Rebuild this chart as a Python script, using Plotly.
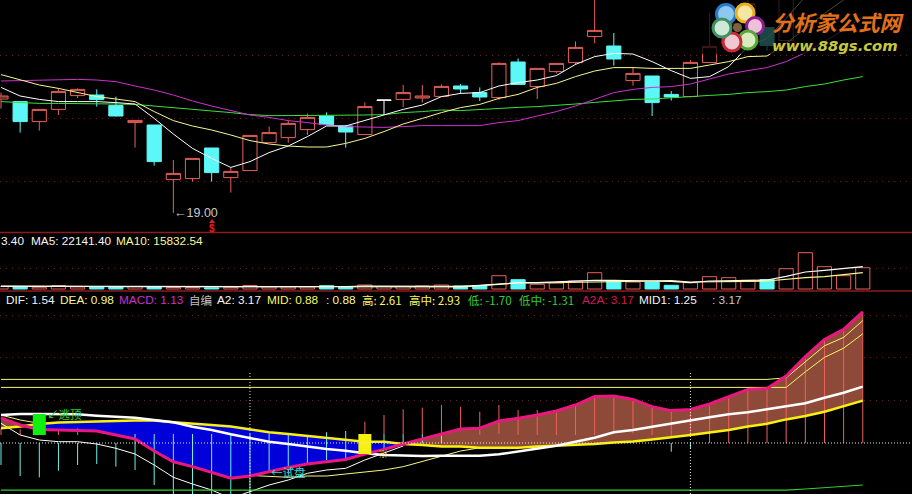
import plotly.graph_objects as go

# ---------- price panel ----------
c_high = [25.02,24.60,24.18,25.23,25.23,25.18,24.82,23.63,23.40,21.65,21.73,22.25,21.27,22.88,23.32,23.62,23.98,24.03,23.40,24.53,None,25.40,25.40,25.43,25.45,25.28,26.53,26.73,26.23,26.48,27.58,30.15,28.00,26.27,25.85,25.10,26.65,28.98,29.32,29.98,28.27,30.15,32.00,33.00,33.50,34.00]
c_top  = [24.85,24.57,24.18,25.08,25.18,24.90,24.38,23.63,23.40,20.98,21.73,22.25,21.08,22.88,23.02,23.48,23.78,23.85,23.35,24.32,None,25.02,24.85,25.33,25.35,25.02,26.48,26.55,26.23,26.48,27.28,28.13,27.35,25.98,25.85,24.93,26.53,27.33,28.48,29.48,28.27,29.82,31.50,32.50,33.00,33.50]
c_bot  = [24.70,23.57,23.57,24.18,24.87,24.67,23.85,23.52,21.57,20.67,20.72,21.02,20.77,21.12,22.52,22.77,23.17,23.42,23.05,22.92,None,24.68,24.75,24.83,25.20,24.80,24.77,25.43,25.32,26.07,26.52,27.82,26.70,25.62,24.52,24.80,24.82,26.52,27.48,28.65,27.37,27.62,30.50,31.50,32.00,32.50]
c_low  = [24.22,23.02,23.12,23.90,24.75,24.32,23.82,22.27,21.37,19.00,20.57,20.57,20.02,21.12,22.52,22.52,22.90,23.42,22.27,22.92,None,24.30,24.52,24.83,24.95,24.60,24.65,25.42,24.70,25.98,26.40,27.48,26.37,25.37,23.85,24.62,24.78,26.52,27.32,28.48,27.12,27.62,30.00,31.00,31.50,32.00]
c_down = [0,1,0,0,0,1,1,0,1,0,0,1,0,0,0,0,0,1,1,0,0,0,0,0,1,1,0,1,0,0,0,0,1,0,1,1,0,0,0,0,1,0,0,0,0,0]
doji_idx = [20]
doji_ohlc = [24.63, 24.65, 23.90, 24.65]

ma_white = [25.28,24.85,24.68,24.57,24.57,24.57,24.52,24.45,23.73,22.95,22.23,21.73,21.28,21.57,22.02,22.35,22.82,23.35,23.35,23.62,23.90,24.18,24.40,24.82,24.98,25.02,25.35,25.52,25.65,25.87,26.43,26.82,26.98,26.95,26.57,26.12,25.73,25.82,26.32,27.32,27.73,28.73,29.82,30.80,31.60,32.40]
ma_yellow = [25.92,25.65,25.40,25.23,25.02,24.82,24.70,24.57,24.07,23.62,23.35,23.15,22.90,22.62,22.45,22.35,22.30,22.30,22.48,22.73,23.07,23.45,23.73,24.02,24.27,24.43,24.73,24.93,25.28,25.48,25.82,26.10,26.27,26.27,26.23,26.23,26.23,26.40,26.57,26.82,26.85,27.48,28.23,28.98,29.65,30.30]
ma_magenta = [25.60,25.62,25.63,25.63,25.68,25.65,25.57,25.35,25.15,24.90,24.60,24.35,24.12,23.90,23.78,23.62,23.52,23.40,23.32,23.30,23.28,23.32,23.37,23.37,23.37,23.37,23.52,23.62,23.85,24.07,24.35,24.68,25.02,25.18,25.28,25.32,25.45,25.70,25.95,26.12,26.27,26.57,27.02,27.57,28.15,28.82]
ma_green = [24.57,24.53,24.48,24.48,24.48,24.48,24.45,24.43,24.35,24.27,24.18,24.12,24.02,23.92,23.87,23.87,23.87,23.88,23.90,23.90,23.92,24.02,24.07,24.15,24.12,24.18,24.23,24.28,24.32,24.37,24.45,24.53,24.62,24.68,24.70,24.77,24.82,24.88,24.93,25.02,25.07,25.15,25.32,25.45,25.65,25.82]
price_grid = [20.57, 23.73, 26.90]

# ---------- volume panel ----------
vol = [2500,2500,1700,3500,2000,2300,2300,2300,2300,1500,1500,1200,1700,3500,2000,2000,2000,3300,2300,4000,2500,2500,3000,4000,3000,3300,13300,9300,4700,6000,8000,16300,8000,7000,7000,3700,6300,12300,11300,8700,9300,20300,36300,22300,13300,21300]
vol_down = [0,1,0,0,0,1,1,0,1,0,0,1,0,0,0,0,0,1,1,0,0,0,0,0,1,1,0,1,0,0,0,0,1,0,1,1,0,0,0,0,1,0,0,0,0,0]
vol_ma5 = [2700,2800,2500,2600,2600,2500,2400,2400,2500,2400,2000,2000,1800,2000,2300,2200,2300,2500,2500,2800,2900,3000,3200,3300,2700,3700,5300,6300,6300,7300,8000,8700,8700,8700,8000,7700,6300,8000,8300,8700,9000,12700,17000,18700,20700,22300]
vol_ma10 = [3000,2900,2800,2700,2700,2700,2600,2600,2600,2500,2500,2400,2300,2300,2400,2400,2400,2300,2300,2300,2400,2400,2300,2200,2000,3300,5000,6000,6000,6300,6700,7000,7700,8000,8300,8300,7000,7000,7300,7700,8000,9700,11300,12300,14000,16300]
vol_grid = [21000]

# ---------- indicator panel ----------
a2a = [.63,.45,.34,.325,.325,.30,.20,.10,-.20,-.47,-.59,-.73,-.88,-.825,-.72,-.61,-.525,-.47,-.41,-.275,-.16,-.025,.10,.22,.35,.37,.55,.62,.70,.80,.95,1.16,1.175,1.09,.91,.81,.84,.975,1.16,1.34,1.36,1.675,2.16,2.59,2.84,3.28]
mid_yellow = [.37,.41,.475,.51,.525,.53,.55,.56,.56,.52,.49,.45,.41,.34,.27,.225,.18,.12,.075,.03,.03,-.025,-.05,-.09,-.09,-.12,-.12,-.12,-.09,-.07,-.05,-.025,.01,.04,.09,.14,.20,.26,.325,.41,.48,.59,.675,.78,.925,1.06]
dif_white = [.70,.725,.725,.725,.717,.683,.658,.633,.575,.517,.408,.325,.217,.117,.033,-.025,-.092,-.15,-.192,-.258,-.30,-.317,-.325,-.317,-.317,-.317,-.283,-.217,-.15,-.067,.033,.133,.267,.325,.408,.492,.558,.642,.717,.767,.842,.908,.992,1.133,1.258,1.408]
thin_white = [.492,.20,.075,.033,.033,-.025,-.133,-.275,-.55,-.858,-1.025,-1.175,-1.383,-1.217,-1.05,-.925,-.758,-.675,-.633,-.425,-.242,-.075]+[None]*24
thin_pale = [.70,.575,.492]+[None]*10+[-.81,-.842,-.858,-.825,-.825,-.775,-.717,-.675,-.592,-.467,-.325,-.20,-.12]+[None]*20
high_line = [1.59]*41+[1.63,2.03,2.43,2.64,3.06]
highmid_line = [1.39]*42+[1.78,2.14,2.37,2.73]
low_line = [-1.18]*41+[-1.18,-1.15,-1.12,-1.09,-1.05]
red_top = [.367,.342,.325,.325,.367]+[None]*14+[.533,.70,.842,.883,.95,.908,.783,.95,.825,.825,.825,.95,1.158,1.158,1.117,.908,.783,.783,.992,1.158,1.342,1.342,1.617,2.158,2.592,2.842,3.283]
red_bot = [.20,.20,.20,.20,.20]+[None]*14+[.225,.225,.225,.225,.225,.325,.20,.225,.20,.20,.20,.20,.20,.242,.242,.20,.175,.158,0,0,0,0,0,0,0,0,0]
cyan_top = [0,0,0,0,0,0,0,.225,.225,.225,.225,.225,.225,.225,.24,.225,.19,.27,.30,.225,.225,.225,.225,.225]+[None]*11+[0,0]+[None]*9
cyan_bot = [-.55,-.825,-.858,-.692,-.55,-.525,-.592,-.675,-1.05,-1.4,-1.4,-1.4,-1.4,-1.4,-.70,-.76,-.51,-.425,-.425,-.30,-.175,0,0,0]+[None]*11+[-.217,-.133]+[None]*9
macd_grid = [1.07, 2.15, 3.2]
signal_idx = [2, 19]
signal_top = [.725, .225]
signal_bot = [.20, -.275]

idx = list(range(46))
W, H = 912, 494
RED, CYAN = "#E8605A", "#5CF8F8"
PANEL_SEP = "#8C1C1C"
GRID = "#6E2020"

def px(x): return x / W
def py(y): return 1 - y / H

fig = go.Figure()

# candles
ko = [t if d else b for t, b, d in zip(c_top, c_bot, c_down)]
kc = [b if d else t for t, b, d in zip(c_top, c_bot, c_down)]
fig.add_trace(go.Candlestick(x=idx, open=ko, high=c_high, low=c_low, close=kc,
    increasing=dict(line=dict(color=RED, width=1), fillcolor="black"),
    decreasing=dict(line=dict(color=CYAN, width=1), fillcolor=CYAN),
    whiskerwidth=0, showlegend=False, hoverinfo="skip"))
fig.add_trace(go.Candlestick(x=doji_idx, open=[doji_ohlc[0]], high=[doji_ohlc[1]], low=[doji_ohlc[2]], close=[doji_ohlc[3]],
    increasing=dict(line=dict(color="white", width=1), fillcolor="white"),
    decreasing=dict(line=dict(color="white", width=1), fillcolor="white"),
    whiskerwidth=0, showlegend=False, hoverinfo="skip"))
for s, col in ((ma_green, "#3CE03C"), (ma_magenta, "#D030D0"), (ma_yellow, "#F8F890"), (ma_white, "#FFFFFF")):
    fig.add_trace(go.Scatter(x=idx, y=s, mode="lines", line=dict(color=col, width=1), showlegend=False, hoverinfo="skip"))

# volume
fig.add_trace(go.Bar(x=idx, y=vol, yaxis="y2", width=0.74,
    marker=dict(color=[CYAN if d else "black" for d in vol_down],
                line=dict(color=[CYAN if d else RED for d in vol_down], width=1)),
    showlegend=False, hoverinfo="skip"))
fig.add_trace(go.Scatter(x=idx, y=vol_ma10, yaxis="y2", mode="lines", line=dict(color="#F8F890", width=1.2), showlegend=False, hoverinfo="skip"))
fig.add_trace(go.Scatter(x=idx, y=vol_ma5, yaxis="y2", mode="lines", line=dict(color="#FFFFFF", width=1.2), showlegend=False, hoverinfo="skip"))

# filled band between a2a and the yellow line, one closed outline per region
regions = {True: ([], []), False: ([], [])}
up_x, up_y, lo_y = [0], [a2a[0]], [mid_yellow[0]]
sign = a2a[0] > mid_yellow[0]
def close_region(sign, xs, ups, los):
    rx_, ry_ = regions[sign]
    rx_.extend(xs + xs[::-1] + [None])
    ry_.extend(ups + los[::-1] + [None])
for i in range(45):
    d0, d1 = a2a[i] - mid_yellow[i], a2a[i + 1] - mid_yellow[i + 1]
    if (d0 > 0) != (d1 > 0):
        t = d0 / (d0 - d1)
        xc, yc = i + t, a2a[i] + t * (a2a[i + 1] - a2a[i])
        up_x.append(xc); up_y.append(yc); lo_y.append(yc)
        close_region(sign, up_x, up_y, lo_y)
        sign = not sign
        up_x, up_y, lo_y = [xc], [yc], [yc]
    up_x.append(i + 1); up_y.append(a2a[i + 1]); lo_y.append(mid_yellow[i + 1])
close_region(sign, up_x, up_y, lo_y)
fig.add_trace(go.Scatter(x=regions[False][0], y=regions[False][1], yaxis="y3", mode="none", fill="toself", fillcolor="#0000D8", showlegend=False, hoverinfo="skip"))
fig.add_trace(go.Scatter(x=regions[True][0], y=regions[True][1], yaxis="y3", mode="none", fill="toself", fillcolor="#8E4A38", showlegend=False, hoverinfo="skip"))

def stems(tops, bots):
    xs, ys = [], []
    for i, (t, b) in enumerate(zip(tops, bots)):
        if t is not None:
            xs += [i, i, None]; ys += [b, t, None]
    return xs, ys

for tops, bots, col in ((red_top, red_bot, "#F0605A"), (cyan_top, cyan_bot, "#70F0E8")):
    xs, ys = stems(tops, bots)
    fig.add_trace(go.Scatter(x=xs, y=ys, yaxis="y3", mode="lines", line=dict(color=col, width=1), showlegend=False, hoverinfo="skip"))

for s, col, w in ((thin_white, "#FFFFFF", 1), (thin_pale, "#F8F880", 1), (highmid_line, "#F8F860", 1),
                  (high_line, "#F8F860", 1), (low_line, "#30D030", 1.2),
                  (mid_yellow, "#F8F010", 2.5), (dif_white, "#FFFFFF", 2.5), (a2a, "#E8187E", 3)):
    fig.add_trace(go.Scatter(x=idx, y=s, yaxis="y3", mode="lines", line=dict(color=col, width=w),
                             connectgaps=False, showlegend=False, hoverinfo="skip"))

for i, t, b, col in zip(signal_idx, signal_top, signal_bot, ("#10F010", "#F8F010")):
    fig.add_trace(go.Scatter(x=[i, i], y=[b, t], yaxis="y3", mode="lines", line=dict(color=col, width=13), showlegend=False, hoverinfo="skip"))

shapes = [
    dict(type="line", xref="paper", yref="paper", x0=0, x1=1, y0=py(232.5), y1=py(232.5), line=dict(color=PANEL_SEP, width=1.5)),
    dict(type="line", xref="paper", yref="paper", x0=0, x1=1, y0=py(291), y1=py(291), line=dict(color=PANEL_SEP, width=1.5)),
    dict(type="line", xref="paper", yref="y3", x0=0, x1=1, y0=0, y1=0, layer="above", line=dict(color="#E8E8E8", width=1, dash="1px,2px")),
]
for i in (13, 36):
    shapes.append(dict(type="line", xref="x", yref="paper", x0=i, x1=i, y0=py(373), y1=0, layer="above",
                       line=dict(color="#E8E8E8", width=1, dash="1px,2px")))
# dimmed area behind the logo
shapes.append(dict(type="rect", xref="paper", yref="paper", x0=px(700), x1=1, y0=py(54), y1=1, layer="above",
                   fillcolor="rgba(0,0,0,0.72)", line=dict(width=0)))
# small up-pointing mark above the $ sign
shapes.append(dict(type="path", xref="paper", yref="paper", layer="above", fillcolor="#F01818", line=dict(width=0),
                   path=f"M {px(209)} {py(223)} L {px(215)} {py(223)} L {px(212)} {py(219)} Z"))
# logo flower
for cx, cy, rr, col, inner in ((726, 14, 11, "#2E78C8", "#8CC8F0"), (745, 13, 10.5, "#E8B020", "#F4E8A0"),
                               (755, 26, 10, "#8C2090", "#F0C0D8"), (748, 40, 10.5, "#58A838", "#D8ECC0"),
                               (732, 42, 10.5, "#C82838", "#F0C8D0"), (722, 28, 10.5, "#409060", "#D0E8D8")):
    shapes.append(dict(type="circle", xref="paper", yref="paper", layer="above",
                       x0=px(cx - rr), x1=px(cx + rr), y0=py(cy + rr), y1=py(cy - rr), fillcolor=col, line=dict(width=0)))
    r2 = rr - 3
    shapes.append(dict(type="circle", xref="paper", yref="paper", layer="above",
                       x0=px(cx - r2), x1=px(cx + r2), y0=py(cy + r2), y1=py(cy - r2), fillcolor=inner, line=dict(width=0)))
shapes.append(dict(type="circle", xref="paper", yref="paper", layer="above",
                   x0=px(733), x1=px(742), y0=py(32), y1=py(23), fillcolor="#806040", line=dict(width=0)))

FONT = "Liberation Sans"
def label(text, x, y, color, size=11.8, family=FONT, anchor="left"):
    return dict(text=text, x=px(x), y=py(y), xref="paper", yref="paper", xanchor=anchor, yanchor="middle",
                showarrow=False, borderpad=0, align="left", font=dict(family=family, size=size, color=color))

CJK = "Noto Sans CJK SC"
anns = [
    label("←19.00", 173, 213, "#C8C8C8", 12.5),
    label("<b>$</b>", 212, 228, "#F01818", 10, anchor="center"),
    label("3.40", 0, 240.5, "#F4F4F4"),
    label("MA5: 22141.40", 30, 240.5, "#F4F4F4"),
    label("MA10: 15832.54", 115, 240.5, "#F8F890"),
    label("DIF: 1.54", 5, 299.5, "#F4F4F4"),
    label("DEA: 0.98", 59, 299.5, "#F8F890"),
    label("MACD: 1.13", 118, 299.5, "#C832D2"),
    label("自编", 188, 299.5, "#C0C0C0", 11.5, CJK),
    label("A2: 3.17", 216, 299.5, "#F4F4F4"),
    label("MID: 0.88", 266, 299.5, "#F8F860"),
    label(": 0.88", 325, 299.5, "#F8F8A0"),
    label("高: 2.61", 361, 299.5, "#F8F860", 11.5, CJK),
    label("高中: 2.93", 408, 299.5, "#F8F860", 11.5, CJK),
    label("低: -1.70", 467, 299.5, "#30D030", 11.5, CJK),
    label("低中: -1.31", 518, 299.5, "#30D030", 11.5, CJK),
    label("A2A: 3.17", 581, 299.5, "#D01850"),
    label("MID1: 1.25", 638, 299.5, "#F4F4F4"),
    label(": 3.17", 711, 299.5, "#C8C8C8"),
    label("↙逃顶", 46, 414, "#30D030", 11.5, CJK),
    label("←试盘", 270, 472, "#30E0D8", 11.5, CJK),
    label("※", 383, 453, "#E8D838", 10, CJK, anchor="center"),
    label("<b><i>分析家公式网</i></b>", 771, 21, "#E0701C", 21.5, CJK),
    label("<b><i>www.88gs.com</i></b>", 771, 45.5, "#C8C83C", 14.8, "DejaVu Sans"),
]

blank = dict(showticklabels=False, ticks="", zeroline=False, showline=False)
grid = dict(showgrid=True, gridcolor=GRID, griddash="1px,5px", gridwidth=1)
fig.update_layout(
    width=W, height=H, margin=dict(l=0, r=0, t=0, b=0),
    paper_bgcolor="black", plot_bgcolor="black", showlegend=False, barmode="overlay", boxgap=0.26, boxgroupgap=0,
    xaxis=dict(range=[-0.052, 47.57], rangeslider=dict(visible=False), showgrid=False, **blank),
    yaxis=dict(domain=[1 - 232 / H, 1], range=[18.05, 29.65], tickvals=price_grid, anchor="x", **grid, **blank),
    yaxis2=dict(domain=[1 - 291 / H, 1 - 233 / H], range=[-2000, 56000], tickvals=vol_grid, anchor="x", **grid, **blank),
    yaxis3=dict(domain=[0, 1 - 293 / H], range=[-1.275, 3.75], tickvals=macd_grid, anchor="x", **grid, **blank),
    shapes=shapes, annotations=anns,
)
fig.write_html("out.html", config=dict(displayModeBar=False),
               post_script="document.body.style.margin='0';document.body.style.background='black';")
